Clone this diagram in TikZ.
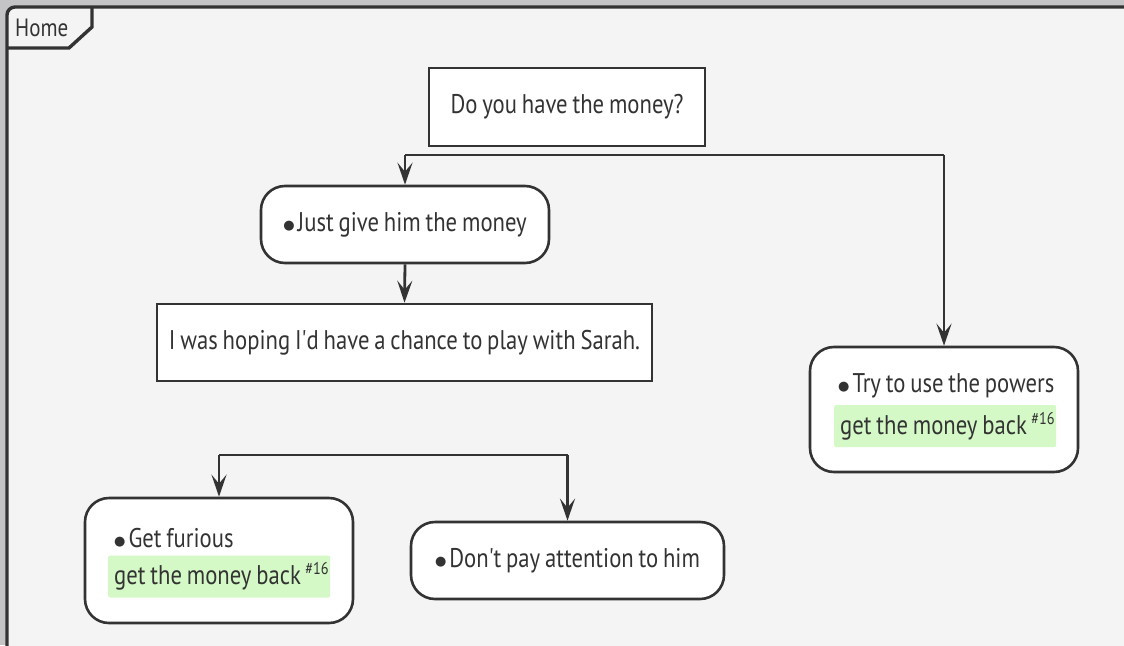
\documentclass[tikz,border=0pt]{standalone}
\usepackage{fontspec}
\setmainfont{PT Sans}[FakeStretch=0.84, WordSpace=0.8, Ligatures=TeXOff]
\newfontfamily\symfont{DejaVu Sans}
\usetikzlibrary{arrows.meta}
\definecolor{ink}{HTML}{333333}
\definecolor{framebg}{HTML}{F4F4F4}
\definecolor{outer}{HTML}{C4C4C6}
\definecolor{hlgreen}{HTML}{D4F9C6}
\tikzset{
  lbl/.style={font=\fontsize{27}{29}\selectfont, text=ink},
  sqbox/.style={draw=ink, line width=2.6pt, fill=white, inner sep=0pt, lbl},
  rbox/.style={sqbox, rounded corners=24pt},
  conn/.style={draw=ink, line width=2.8pt},
  arr/.style={conn, -{Stealth[length=22pt, width=15pt, inset=9pt]}},
  hl/.style={fill=hlgreen, rounded corners=2pt, inner xsep=6pt, inner ysep=0pt, minimum height=42pt, lbl},
}
\newcommand{\tagsup}[1]{\,\raisebox{10pt}{\fontsize{17}{17}\selectfont #1}}
\newcommand{\bul}{\raisebox{2pt}{\symfont\fontsize{13}{13}\selectfont ●}\hspace{3pt}}
\begin{document}
\begin{tikzpicture}[x=1pt, y=-1pt]
\useasboundingbox (0,0) rectangle (1124,645);
\fill[outer] (0,0) rectangle (1124,645);
% frame
\draw[draw=ink, fill=framebg, line width=3.4pt, rounded corners=8pt] (7,7) rectangle (1140,660);
\draw[draw=ink, line width=3.4pt] (7,48) -- (69,48) -- (92,27) -- (92,7);
\node[lbl, font=\fontsize{25}{27}\selectfont, anchor=west, inner sep=0pt] (home) at (15,28) {Home};

% nodes
\node[sqbox, minimum width=276pt, minimum height=78pt] (q) at (567,107) {Do you have the money?};
\node[rbox, minimum width=288pt, minimum height=77pt] (give) at (405,224.5) {\bul Just give him the money};
\node[sqbox, minimum width=495pt, minimum height=77pt] (hope) at (404.5,342.5) {I was hoping I'd have a chance to play with Sarah.};
\node[rbox, minimum width=268pt, minimum height=125pt] (powers) at (944,409.5) {};
\node[rbox, minimum width=268pt, minimum height=125pt] (furious) at (219,560.5) {};
\node[rbox, minimum width=313pt, minimum height=77pt] (ignore) at (567.5,560.5) {\bul Don't pay attention to him};

% contents of the two-line boxes
\node[lbl, anchor=west, inner sep=0pt] (powerst) at (838,386) {\bul Try to use the powers};
\node[hl, anchor=west] (powersh) at (834,426) {\makebox[210pt][l]{get the money back\tagsup{\#16}}};
\node[lbl, anchor=west, inner sep=0pt] (furioust) at (114,538) {\bul Get furious};
\node[hl, anchor=west] (furioush) at (108,576.5) {\makebox[210pt][l]{get the money back\tagsup{\#16}}};

% connectors
\coordinate (b1l) at (405,155);
\coordinate (b1r) at (944,155);
\draw[conn] (b1l) -- (b1r);
\draw[arr] (b1l) -- (give.north);
\draw[arr] (b1r) -- (powers.north);
\draw[arr] (give.south) -- (hope.north);
\coordinate (b2l) at (219,455);
\coordinate (b2r) at (567.5,455);
\draw[conn] (b2l) -- (b2r);
\draw[arr] (b2l) -- (furious.north);
\draw[arr] (b2r) -- (ignore.north);
\end{tikzpicture}
\end{document}
